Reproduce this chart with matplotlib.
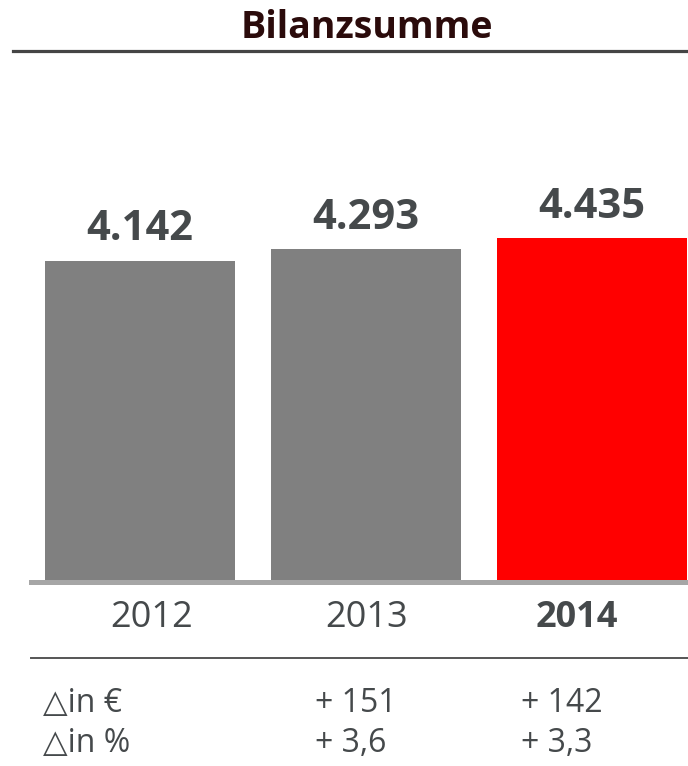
import matplotlib

matplotlib.use("Agg")
import matplotlib.pyplot as plt
from matplotlib.lines import Line2D
import numpy as np

plt.rcParams["font.family"] = ["Open Sans", "DejaVu Sans"]

# ---------- data ----------
years = ["2012", "2013", "2014"]
values = [4142, 4293, 4435]
value_labels = ["4.142", "4.293", "4.435"]
delta_eur = ["", "+ 151", "+ 142"]
delta_pct = ["", "+ 3,6", "+ 3,3"]
row_labels = ["\u25b3in \u20ac", "\u25b3in %"]

W, H = 688, 766
TEXT = "#45494b"
BAR_GREY = "#808080"
BAR_RED = "#ff0000"


def fx(px):
    return px / W


def fy(py):
    return 1 - py / H


fig = plt.figure(figsize=(W / 100, H / 100), dpi=100)

# title + rule
fig.text(fx(367), fy(38), "Bilanzsumme", ha="center", va="baseline",
         fontsize=27, fontweight="bold", color="#2b0b0b")
fig.add_artist(Line2D([fx(13), 1], [fy(51), fy(51)], color="#454545", lw=2.3))

# ---------- bars ----------
step = 226.0
ax = fig.add_axes([0, fy(582), 1, (582 - 60) / H])
x = np.arange(len(values))
colors = [BAR_GREY, BAR_GREY, BAR_RED]
ax.bar(x, values, width=190 / step, color=colors, zorder=2)
left = -140 / step
ax.set_xlim(left, left + W / step)
ax.set_ylim(0, 6727)
ax.axis("off")

for xi, val, lab in zip(x, values, value_labels):
    ax.annotate(lab, (xi, val), xytext=(0, 14.5), textcoords="offset points",
                ha="center", va="baseline", fontsize=30, fontweight="bold",
                color=TEXT)

# baseline
fig.add_artist(Line2D([fx(31), 1], [fy(582), fy(582)], color="#a6a6a6",
                      lw=3.6, zorder=1))

# years
year_x = [152, 367, 577]
for i, (yx, yr) in enumerate(zip(year_x, years)):
    fig.text(fx(yx), fy(627), yr, ha="center", va="baseline", fontsize=26,
             color=TEXT, fontweight="bold" if i == len(years) - 1 else "normal")

# table rule
fig.add_artist(Line2D([fx(31), 1], [fy(658), fy(658)], color="#555555", lw=1.4))

# change rows
col_x = [43, 315, 521]
for ry, lab, row in zip([712, 752], row_labels, [delta_eur, delta_pct]):
    fig.text(fx(col_x[0]), fy(ry), lab, ha="left", va="baseline", fontsize=23,
             color=TEXT)
    for cx, txt in zip(col_x[1:], row[1:]):
        fig.text(fx(cx), fy(ry), txt, ha="left", va="baseline", fontsize=23,
                 color=TEXT)

fig.savefig("out.png", dpi=100)
